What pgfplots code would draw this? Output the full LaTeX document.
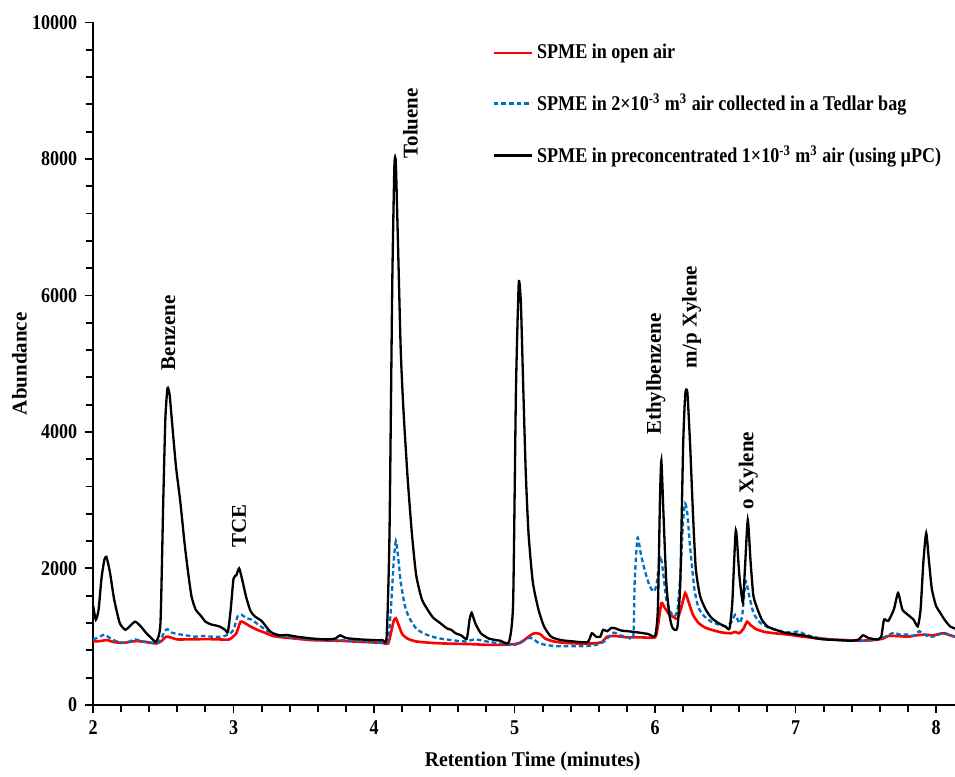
\documentclass[border=0pt]{standalone}
\usepackage{fontspec}
\setmainfont{Liberation Serif}[FakeStretch=0.86]
\newfontfamily\rotfont{Liberation Serif}
\newfontfamily\xlabfont{Liberation Serif}[FakeStretch=0.94]
\usepackage{pgfplots}
\pgfplotsset{compat=1.18}
\definecolor{sblue}{RGB}{0,112,192}
\definecolor{sred}{RGB}{255,0,0}

\begin{document}
\begin{tikzpicture}
\begin{axis}[
  at={(0,0)}, anchor=south west,
  width=410.5pt, height=325pt, scale only axis,
  xmin=2, xmax=8.135, ymin=0, ymax=10000,
  axis x line=bottom, axis y line=left,
  axis line style={-, line width=0.9pt},
  xtick={2,3,4,5,6,7,8}, ytick={0,2000,4000,6000,8000,10000},
  scaled y ticks=false,
  minor x tick num=4, minor y tick num=4,
  tick align=outside, xtick align=outside, ytick align=outside,
  major tick length=4pt, minor tick length=3.5pt,
  tick style={line width=0.9pt, black},
  /pgf/number format/assume math mode=true,
  /pgf/number format/1000 sep={},
  tick label style={font=\bfseries},
  xlabel={\xlabfont\bfseries Retention Time (minutes)},
  ylabel={\rotfont\bfseries Abundance},
  x label style={at={(axis description cs:0.51,-0.083)}, anchor=center},
  y label style={at={(axis description cs:-0.0853,0.5)}, anchor=center, rotate=0},
  legend cell align=left,
  legend style={draw=none, fill=none, at={(axis description cs:0.463,0.975)}, anchor=north west,
    font=\bfseries, row sep=11pt, inner sep=0pt},
  legend image code/.code={\draw[#1] (0pt,0pt) -- (18pt,0pt);},
]
\addplot[sred, line width=1.25pt, smooth, tension=0.35] coordinates {
(2.00,930)(2.05,935)(2.10,950)(2.15,920)(2.22,910)(2.28,930)(2.32,935)(2.38,920)(2.45,900)(2.49,940)
(2.52,1000)(2.55,990)(2.60,960)(2.66,960)(2.72,960)(2.80,965)(2.90,960)(2.97,960)(3.02,1050)(3.05,1220)
(3.08,1200)(3.12,1150)(3.17,1100)(3.22,1060)(3.28,1010)(3.35,990)(3.45,970)(3.55,950)(3.65,945)(3.75,940)
(3.85,930)(3.95,920)(4.05,910)(4.10,900)(4.12,1050)(4.14,1230)(4.155,1270)(4.17,1200)(4.20,1040)(4.24,970)
(4.30,930)(4.40,910)(4.50,900)(4.60,895)(4.70,890)(4.80,880)(4.90,880)(5.00,890)(5.05,920)(5.10,1000)
(5.14,1050)(5.18,1040)(5.22,970)(5.28,930)(5.35,910)(5.45,900)(5.55,900)(5.62,920)(5.66,1000)(5.72,1010)
(5.80,990)(5.90,990)(6.00,990)(6.02,1150)(6.045,1490)(6.07,1420)(6.10,1330)(6.13,1290)(6.16,1260)(6.19,1450)
(6.215,1640)(6.24,1500)(6.27,1320)(6.31,1200)(6.36,1130)(6.42,1090)(6.48,1060)(6.54,1050)(6.57,1070)(6.60,1050)
(6.63,1120)(6.655,1220)(6.68,1170)(6.72,1110)(6.78,1070)(6.85,1050)(6.95,1030)(7.05,1000)(7.15,980)(7.25,960)
(7.35,950)(7.45,940)(7.55,950)(7.62,970)(7.66,1010)(7.72,1010)(7.80,1000)(7.86,1020)(7.92,1030)(7.98,1020)
(8.05,1050)(8.10,1020)(8.135,1000)
};
\addlegendentry{SPME in open air}
\addplot[sblue, line width=1.1pt, dash pattern=on 2.2pt off 1.4pt, smooth, tension=0.35] coordinates {
(2.00,960)(2.04,990)(2.08,1030)(2.12,980)(2.17,930)(2.22,910)(2.26,930)(2.30,960)(2.35,930)(2.40,920)
(2.45,900)(2.48,950)(2.51,1080)(2.53,1110)(2.56,1060)(2.60,1040)(2.66,1020)(2.72,1000)(2.78,1010)(2.85,1000)
(2.92,1000)(2.97,1040)(3.00,1100)(3.03,1300)(3.06,1320)(3.09,1270)(3.13,1250)(3.18,1170)(3.23,1100)(3.28,1040)
(3.35,1000)(3.45,980)(3.55,960)(3.65,950)(3.75,950)(3.85,940)(3.95,930)(4.05,910)(4.10,950)(4.12,1400)
(4.14,2100)(4.155,2400)(4.17,2200)(4.19,1800)(4.22,1450)(4.25,1280)(4.30,1120)(4.36,1040)(4.45,980)(4.55,950)
(4.65,930)(4.72,960)(4.80,930)(4.90,900)(5.00,880)(5.05,930)(5.10,980)(5.13,970)(5.17,910)(5.22,880)
(5.30,860)(5.40,860)(5.50,860)(5.58,880)(5.64,930)(5.68,1020)(5.71,1060)(5.75,1020)(5.80,1000)(5.845,1000)
(5.855,1800)(5.875,2450)(5.90,2200)(5.93,1950)(5.96,1750)(5.99,1660)(6.01,1750)(6.025,2000)(6.04,2180)(6.06,1900)
(6.08,1550)(6.11,1360)(6.14,1300)(6.16,1400)(6.18,1900)(6.20,2700)(6.215,2950)(6.23,2800)(6.25,2300)(6.28,1700)
(6.31,1420)(6.35,1300)(6.40,1220)(6.45,1180)(6.50,1150)(6.54,1200)(6.57,1320)(6.60,1200)(6.62,1300)(6.645,1810)
(6.67,1600)(6.70,1350)(6.74,1220)(6.80,1140)(6.86,1100)(6.92,1070)(6.98,1060)(7.02,1080)(7.06,1040)(7.12,1000)
(7.20,970)(7.30,950)(7.40,940)(7.50,940)(7.58,960)(7.64,1000)(7.70,1060)(7.74,1030)(7.80,1030)(7.84,1010)
(7.88,1080)(7.90,1050)(7.95,1000)(8.00,1010)(8.05,1060)(8.10,1020)(8.135,1000)
};
\addlegendentry{SPME in 2×10\textsuperscript{-3} m\textsuperscript{3} air collected in a Tedlar bag}
\addplot[black, line width=1.1pt, smooth, tension=0.35] coordinates {
(2.00,1460)(2.02,1250)(2.04,1400)(2.06,1850)(2.08,2120)(2.095,2170)(2.12,1950)(2.15,1550)(2.19,1200)(2.23,1100)(2.26,1150)
(2.30,1220)(2.34,1150)(2.38,1050)(2.42,970)(2.45,930)(2.48,1200)(2.50,3000)(2.515,4200)(2.53,4640)(2.545,4550)(2.56,4200)
(2.59,3500)(2.62,3000)(2.65,2400)(2.67,2050)(2.70,1600)(2.73,1400)(2.77,1300)(2.80,1220)(2.84,1180)(2.90,1150)
(2.94,1100)(2.96,1070)(2.98,1400)(3.00,1850)(3.02,1900)(3.04,2000)(3.06,1850)(3.09,1580)(3.12,1380)(3.15,1300)
(3.20,1230)(3.25,1100)(3.28,1050)(3.33,1020)(3.38,1025)(3.45,1000)(3.55,975)(3.65,960)(3.72,970)(3.76,1020)
(3.80,980)(3.90,960)(4.00,950)(4.06,950)(4.09,1000)(4.11,2500)(4.13,6200)(4.145,7900)(4.155,7950)(4.17,6800)(4.19,5200)
(4.21,4300)(4.24,3300)(4.27,2500)(4.30,1900)(4.34,1550)(4.38,1400)(4.42,1280)(4.47,1200)(4.52,1120)(4.55,1100)
(4.58,1050)(4.62,1020)(4.66,970)(4.68,1250)(4.695,1350)(4.72,1200)(4.76,1050)(4.82,970)(4.90,940)(4.96,920)
(4.99,1500)(5.01,4600)(5.03,6180)(5.045,5900)(5.06,4800)(5.08,3400)(5.10,2500)(5.13,1800)(5.17,1400)(5.21,1150)(5.26,1000)
(5.33,950)(5.42,930)(5.52,920)(5.55,1050)(5.58,1000)(5.61,1000)(5.63,1100)(5.66,1080)(5.69,1130)(5.72,1120)
(5.76,1090)(5.85,1070)(5.95,1040)(6.00,1010)(6.02,1400)(6.035,3000)(6.045,3580)(6.06,2800)(6.08,1800)(6.10,1350)
(6.12,1150)(6.14,1100)(6.16,1150)(6.18,1800)(6.20,3800)(6.215,4550)(6.23,4580)(6.25,3800)(6.27,2800)(6.29,2000)(6.32,1600)
(6.36,1400)(6.40,1280)(6.45,1200)(6.50,1150)(6.53,1120)(6.55,1500)(6.575,2560)(6.60,1900)(6.625,1500)(6.64,2000)
(6.66,2710)(6.68,2100)(6.70,1600)(6.73,1400)(6.76,1250)(6.80,1150)(6.86,1100)(6.92,1060)(6.98,1040)(7.05,1020)
(7.10,1000)(7.13,980)(7.20,960)(7.30,950)(7.40,940)(7.45,960)(7.48,1020)(7.52,980)(7.58,960)(7.61,1000)
(7.63,1250)(7.66,1230)(7.70,1400)(7.73,1640)(7.76,1400)(7.80,1320)(7.84,1250)(7.87,1150)(7.89,1400)(7.91,2100)
(7.93,2520)(7.95,2100)(7.97,1700)(8.00,1450)(8.03,1350)(8.06,1250)(8.10,1150)(8.135,1120)
};
\addlegendentry{SPME in preconcentrated 1×10\textsuperscript{-3} m\textsuperscript{3} air (using µPC)}
\node[rotate=90, anchor=west, inner sep=0pt, font=\rotfont\bfseries] at (axis cs:2.536,4900) {Benzene};
\node[rotate=90, anchor=west, inner sep=0pt, font=\rotfont\bfseries] at (axis cs:3.04,2300) {TCE};
\node[rotate=90, anchor=west, inner sep=0pt, font=\rotfont\bfseries] at (axis cs:4.26,8000) {Toluene};
\node[rotate=90, anchor=west, inner sep=0pt, font=\rotfont\bfseries] at (axis cs:6.006,3950) {Ethylbenzene};
\node[rotate=90, anchor=west, inner sep=0pt, font=\rotfont\bfseries] at (axis cs:6.26,4930) {m/p Xylene};
\node[rotate=90, anchor=west, inner sep=0pt, font=\rotfont\bfseries] at (axis cs:6.665,2860) {o Xylene};
\end{axis}
\pgfresetboundingbox
\useasboundingbox (-44.3pt,-34.3pt) rectangle (410.5pt,335.7pt);
\end{tikzpicture}
\end{document}
